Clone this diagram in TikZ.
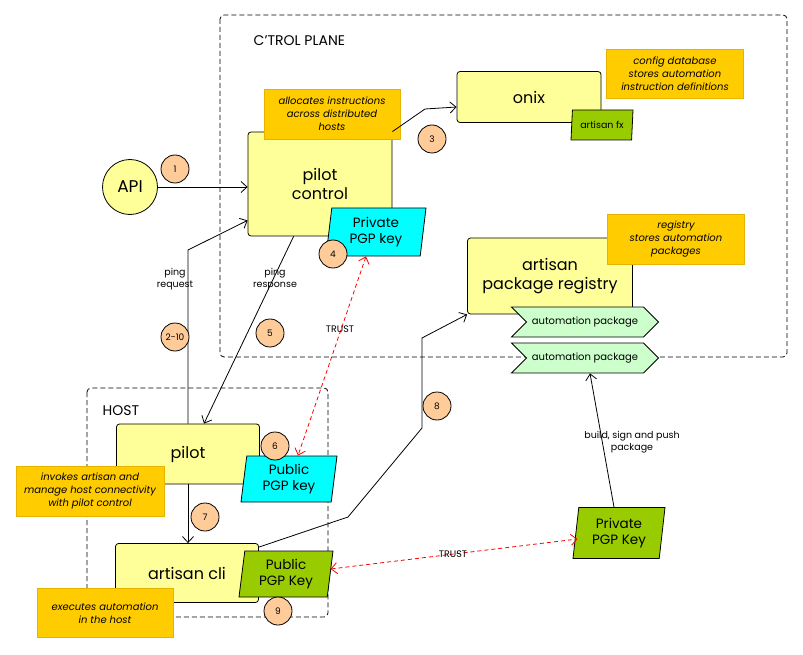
\documentclass[tikz,border=0pt]{standalone}
\usepackage{fontspec}
\setmainfont{Poppins}
\usetikzlibrary{shapes.geometric,shapes.symbols,arrows.meta,calc}

\definecolor{boxyellow}{HTML}{FFFF99}
\definecolor{noteorange}{HTML}{FFCC00}
\definecolor{noteedge}{HTML}{E6B400}
\definecolor{stepfill}{HTML}{FFCC99}
\definecolor{keycyan}{HTML}{00FFFF}
\definecolor{keygreen}{HTML}{99CC00}
\definecolor{pkggreen}{HTML}{CCFFCC}

\tikzset{
  every path/.style={line width=0.8pt},
  comp/.style={draw, fill=boxyellow, rounded corners=3pt, align=center, font=\fontsize{16}{19}\selectfont},
  note/.style={draw=noteedge, fill=noteorange, align=center, inner sep=0pt, font=\fontsize{10}{13}\selectfont\itshape},
  keybox/.style={trapezium, trapezium left angle=79, trapezium right angle=101, trapezium stretches body, draw, align=center, inner sep=0pt, font=\fontsize{13.5}{16}\selectfont},
  stepno/.style={circle, draw, fill=stepfill, minimum size=28pt, inner sep=0pt, font=\fontsize{9}{10}\selectfont},
  pkg/.style={signal, signal to=east, signal from=west, draw, fill=pkggreen, minimum width=147pt, minimum height=30pt, inner sep=0pt, font=\fontsize{10}{12}\selectfont},
  flow/.style={-{Straight Barb[length=6pt,width=11pt]}},
  trust/.style={red, dash pattern=on 4pt off 3pt, {Straight Barb[length=6pt,width=11pt]}-{Straight Barb[length=6pt,width=11pt]}},
  lbl/.style={font=\fontsize{9.5}{12}\selectfont, align=center},
  zone/.style={draw, dash pattern=on 5pt off 3pt, rounded corners=4pt},
}

\begin{document}
\begin{tikzpicture}[x=1pt, y=-1pt]
  \useasboundingbox (0,0) rectangle (803,655);

  % CONTROL PLANE zone
  \draw[zone] (220,15) rectangle (787,357);
  \node[anchor=west, font=\fontsize{14}{16}\selectfont] (cptitle) at (250,41) {C'TROL PLANE};

  % HOST zone
  \draw[zone] (87,388) rectangle (328,617);
  \node[anchor=west, font=\fontsize{14}{16}\selectfont] (hosttitle) at (99,411) {HOST};

  % Components
  \node[comp, minimum width=144pt, minimum height=104pt] (pc) at (320,184) {pilot\\control};
  \node[comp, minimum width=144pt, minimum height=51pt] (onix) at (529,97) {onix};
  \node[comp, minimum width=165pt, minimum height=76pt] (reg) at (550,276) {artisan\\package registry};
  \node[comp, minimum width=143pt, minimum height=60pt] (pilot) at (188,454) {pilot};
  \node[comp, minimum width=143pt, minimum height=59pt] (cli) at (187,573) {artisan cli};
  \node[circle, draw, fill=boxyellow, minimum size=55pt, inner sep=0pt, font=\fontsize{17}{19}\selectfont] (api) at (130,187) {API};

  % Packages in the registry
  \node[pkg] (pkga) at (585,322) {automation package};
  \node[pkg] (pkgb) at (585,358) {automation package};

  % Keys
  \node[keybox, fill=keygreen, minimum width=62pt, minimum height=30pt, font=\fontsize{9.5}{11}\selectfont] (fx) at (602,125) {artisan fx};
  \node[keybox, fill=keycyan, minimum width=100pt, minimum height=48pt] (pcpriv) at (376,232) {Private\\PGP key};
  \node[keybox, fill=keycyan, minimum width=96pt, minimum height=46pt] (pilotpub) at (289,479) {Public\\PGP key};
  \node[keybox, fill=keygreen, minimum width=94pt, minimum height=46pt] (clipub) at (286,574) {Public\\PGP Key};
  \node[keybox, fill=keygreen, minimum width=92pt, minimum height=51pt] (buildpriv) at (619,533) {Private\\PGP Key};

  % Notes
  \node[note, minimum width=136pt, minimum height=50pt] (nalloc) at (332,114) {allocates instructions\\across distributed\\hosts};
  \node[note, minimum width=137pt, minimum height=49pt] (nconfig) at (675,74) {config database\\stores automation\\instruction definitions};
  \node[note, minimum width=137pt, minimum height=50pt] (nreg) at (676,239) {registry\\stores automation\\packages};
  \node[note, minimum width=148pt, minimum height=50pt] (ninvoke) at (90,491) {invokes artisan and\\manage host connectivity\\with pilot control};
  \node[note, minimum width=136pt, minimum height=49pt] (nexec) at (105,613) {executes automation\\in the host};

  % Connectors
  \draw[flow] (api) -- (api -| pc.west);
  \draw[flow] (pc.north east) -- (425,109) -- ($(onix.west)+(0,10)$);
  \draw[flow] (pilot.north) -- (pilot.north |- 0,250) -- ($(pc.south west)+(0,-16)$);
  \draw[flow] ($(pc.south west)+(46,0)$) -- ($(pilot.north)+(16,0)$);
  \draw[flow] (pilot.south) -- (pilot.south |- cli.north);
  \draw[flow] ($(cli.north east)+(0,4)$) -- (348,517) -- (422,428) -- (422,338) -- (reg.south west);
  \draw[flow] ($(buildpriv.north)+(-5,0)$) -- ($(pkgb.south)+(5,0)$);
  \draw[trust] ($(pcpriv.south)+(-10,0)$) -- ($(pilotpub.north)+(9,0)$);
  \draw[trust] ($(clipub.east)+(0,-5)$) -- ($(buildpriv.west)+(2,6)$);

  % Connector labels
  \node[lbl] (lping) at (175,279) {ping\\request};
  \node[lbl] (lpong) at (275,279) {ping\\response};
  \node[lbl] (ltrusta) at (340,329) {TRUST};
  \node[lbl] (ltrustb) at (453,554) {TRUST};
  \node[lbl] (lbuild) at (632,442) {build, sign and push\\package};

  % Step numbers
  \node[stepno] (s1) at (175,169) {1};
  \node[stepno] (s2) at (175,337) {2-10};
  \node[stepno] (s3) at (432,139) {3};
  \node[stepno] (s4) at (333,254) {4};
  \node[stepno] (s5) at (270,333) {5};
  \node[stepno] (s6) at (275,446) {6};
  \node[stepno] (s7) at (205,517) {7};
  \node[stepno] (s8) at (437,406) {8};
  \node[stepno] (s9) at (278,611) {9};
\end{tikzpicture}
\end{document}
